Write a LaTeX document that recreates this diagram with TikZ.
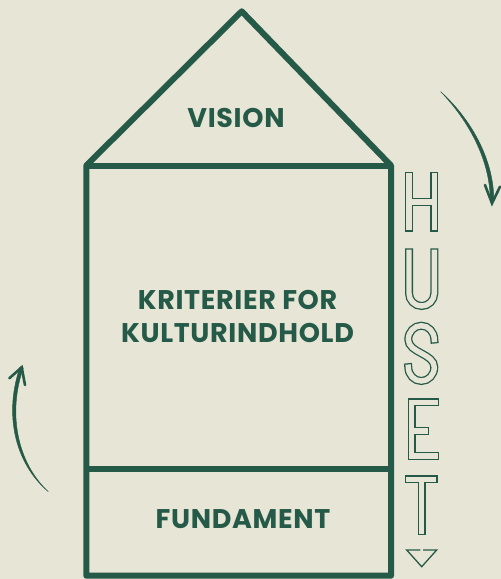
\documentclass[tikz,border=0pt]{standalone}
\usepackage{fontspec}
\setmainfont{Poppins}[LetterSpace=2.5]
\usetikzlibrary{arrows.meta}
\definecolor{hgreen}{RGB}{38,90,72}
\definecolor{hbg}{RGB}{231,229,214}
\begin{document}
\begin{tikzpicture}[x=1pt,y=1pt,
  wall/.style={draw=hgreen,line width=6pt,line join=round},
  housetext/.style={text=hgreen,font=\bfseries\fontsize{27}{30}\selectfont,anchor=base,inner sep=0pt},
  outerstroke/.style={draw=hgreen,line width=8pt,line cap=rect,line join=miter},
  innerstroke/.style={draw=hbg,line width=5.4pt,line cap=rect,line join=miter},
  shaft/.style={fill=hgreen,draw=hgreen,line width=0.4pt},
  barb/.style={draw=hgreen,line width=2.6pt,line cap=round,line join=miter}]
\fill[hbg] (0,0) rectangle (501,-579);
\useasboundingbox (0,0) rectangle (501,-579);
% house
\coordinate (bl) at (86.3,-575.7);
\coordinate (tl) at (86.3,-165.5);
\coordinate (apex) at (241.7,-11.3);
\coordinate (tr) at (391,-165.5);
\coordinate (br) at (391,-575.7);
\coordinate (dl) at (86.3,-469.3);
\coordinate (dr) at (391,-469.3);
\draw[wall] (bl) -- (tl) -- (apex) -- (tr) -- (br) -- cycle;
\draw[wall] (tl) -- (tr);
\draw[wall] (dl) -- (dr);
% texts
\node[housetext] (vision) at (236,-127) {VISION};
\node[housetext] (krit1) at (237.5,-309) {KRITERIER FOR};
\node[housetext] (krit2) at (237.5,-342) {KULTURINDHOLD};
\node[housetext] (fund) at (243,-528) {FUNDAMENT};
% HUSET outlined letters
\foreach \st in {outerstroke,innerstroke}{
  % H
  \draw[\st] (409,-175.7) -- (409,-227.7);
  \draw[\st] (434.3,-175.7) -- (434.3,-227.7);
  \draw[\st] (409,-202) -- (434.3,-202);
  % U
  \draw[\st] (409,-252.3) -- (409,-293.35) arc[start angle=180,end angle=360,radius=12.65] -- (434.3,-252.3);
  % S
  \draw[\st] (434.3,-339.5) arc[start angle=0,end angle=180,x radius=13,y radius=13.8]
     .. controls (408.3,-353) and (434.3,-353.5) .. (434.3,-367.2)
     arc[start angle=0,end angle=-180,x radius=13,y radius=13.8];
  % E
  \draw[\st] (435,-402.3) -- (411.7,-402.3) -- (411.7,-456) -- (435,-456);
  \draw[\st] (411.7,-430.8) -- (425.3,-430.8);
  % T
  \draw[\st] (409,-479.2) -- (433.7,-479.2);
  \draw[\st] (421.7,-479.2) -- (421.7,-531);
}
\coordinate (t1) at (406.7,-550);
\coordinate (t2) at (436.7,-550);
\coordinate (t3) at (421.7,-566.7);
\draw[hgreen,line width=1.3pt,line join=miter] (423,-550) -- (t2) -- (t3) -- (t1) -- (420.4,-550);
% arrows
\coordinate (a1s) at (440.7,-91.7);
\coordinate (a1e) at (492,-203.3);
\coordinate (a1b) at (485,-185);
\coordinate (a1c) at (500,-186.7);
\fill[shaft] (a1s) .. controls (471.6,-119.5) and (493.8,-160) .. (493.8,-200)
  -- (490.2,-200) .. controls (490.2,-160) and (468.4,-120.5) .. (a1s);
\draw[barb] (a1b) -- (a1e) -- (a1c);
\coordinate (a2s) at (48.3,-491.7);
\coordinate (a2e) at (21.7,-367.3);
\coordinate (a2b) at (9.3,-378.3);
\coordinate (a2c) at (25,-385);
\fill[shaft] (a2s) .. controls (16.6,-462) and (7.8,-412) .. (23.3,-368)
  -- (20.1,-366.8) .. controls (4.2,-412) and (13.4,-462) .. (a2s);
\draw[barb] (a2b) -- (a2e) -- (a2c);
\end{tikzpicture}
\end{document}
